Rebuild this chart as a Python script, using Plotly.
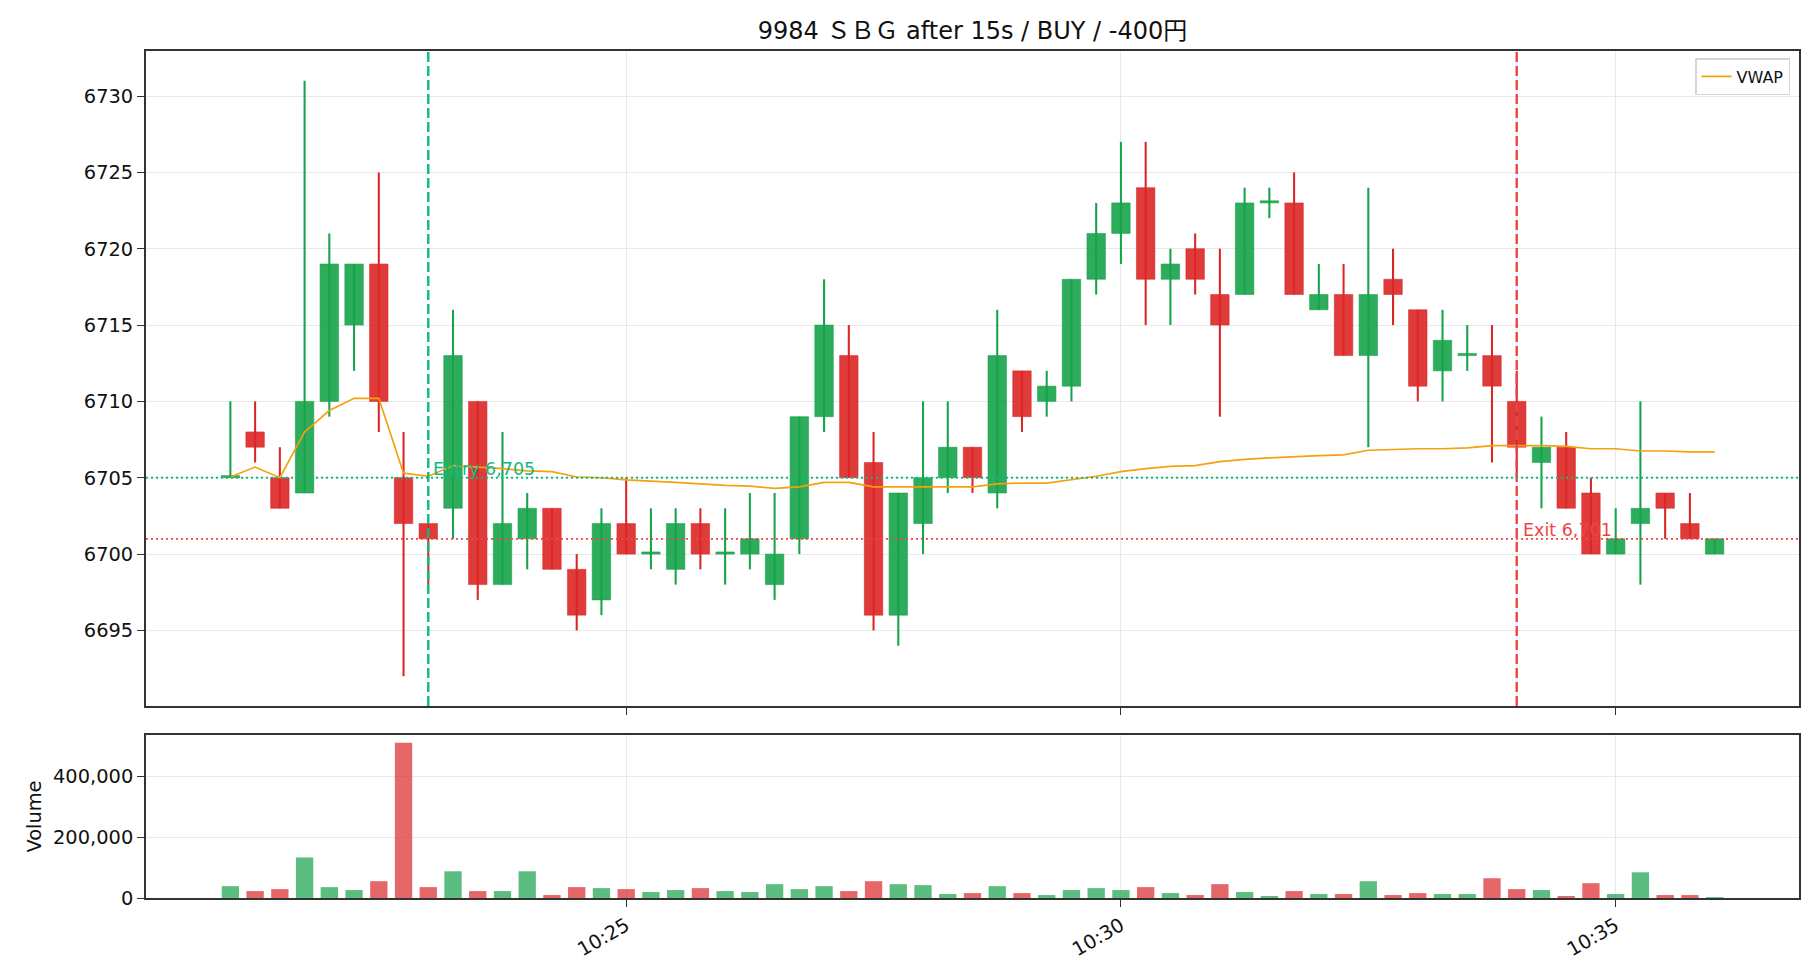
import plotly.graph_objects as go
import pandas as pd

DATE = "2025-01-01"
TITLE = "9984 ＳＢＧ after 15s / BUY / -400円"

times = ["10:21:00", "10:21:15", "10:21:30", "10:21:45", "10:22:00", "10:22:15", "10:22:30", "10:22:45",
         "10:23:00", "10:23:15", "10:23:30", "10:23:45", "10:24:00", "10:24:15", "10:24:30", "10:24:45",
         "10:25:00", "10:25:15", "10:25:30", "10:25:45", "10:26:00", "10:26:15", "10:26:30", "10:26:45",
         "10:27:00", "10:27:15", "10:27:30", "10:27:45", "10:28:00", "10:28:15", "10:28:30", "10:28:45",
         "10:29:00", "10:29:15", "10:29:30", "10:29:45", "10:30:00", "10:30:15", "10:30:30", "10:30:45",
         "10:31:00", "10:31:15", "10:31:30", "10:31:45", "10:32:00", "10:32:15", "10:32:30", "10:32:45",
         "10:33:00", "10:33:15", "10:33:30", "10:33:45", "10:34:00", "10:34:15", "10:34:30", "10:34:45",
         "10:35:00", "10:35:15", "10:35:30", "10:35:45", "10:36:00"]

opens = [6705, 6708, 6705, 6704, 6710, 6715, 6719, 6705, 6702, 6703,
         6710, 6698, 6701, 6703, 6699, 6697, 6702, 6700, 6699, 6702,
         6700, 6700, 6698, 6701, 6709, 6713, 6706, 6696, 6702, 6705,
         6707, 6704, 6712, 6710, 6711, 6718, 6721, 6724, 6718, 6720,
         6717, 6717, 6723, 6723, 6716, 6717, 6713, 6718, 6716, 6712,
         6713, 6713, 6710, 6706, 6707, 6704, 6700, 6702, 6704, 6702, 6700]
highs = [6710, 6710, 6707, 6731, 6721, 6719, 6725, 6708, 6702, 6716,
         6710, 6708, 6704, 6703, 6700, 6703, 6705, 6703, 6703, 6703,
         6703, 6704, 6704, 6709, 6718, 6715, 6708, 6704, 6710, 6710,
         6707, 6716, 6712, 6712, 6718, 6723, 6727, 6727, 6720, 6721,
         6720, 6724, 6724, 6725, 6719, 6719, 6724, 6720, 6716, 6716,
         6715, 6715, 6712, 6709, 6708, 6705, 6703, 6710, 6704, 6704, 6701]
lows = [6705, 6706, 6703, 6704, 6709, 6712, 6708, 6692, 6698, 6701,
        6697, 6698, 6699, 6699, 6695, 6696, 6700, 6699, 6698, 6699,
        6698, 6699, 6697, 6700, 6708, 6705, 6695, 6694, 6700, 6704,
        6704, 6703, 6708, 6709, 6710, 6717, 6719, 6715, 6715, 6717,
        6709, 6717, 6722, 6717, 6716, 6713, 6707, 6715, 6710, 6710,
        6712, 6706, 6705, 6703, 6703, 6700, 6700, 6698, 6701, 6701, 6700]
closes = [6705, 6707, 6703, 6710, 6719, 6719, 6710, 6702, 6701, 6713,
          6698, 6702, 6703, 6699, 6696, 6702, 6700, 6700, 6702, 6700,
          6700, 6701, 6700, 6709, 6715, 6705, 6696, 6704, 6705, 6707,
          6705, 6713, 6709, 6711, 6718, 6721, 6723, 6718, 6719, 6718,
          6715, 6723, 6723, 6717, 6717, 6713, 6717, 6717, 6711, 6714,
          6713, 6711, 6707, 6707, 6703, 6700, 6701, 6703, 6703, 6701, 6701]
volumes = [38900, 22700, 29200, 133000, 35700, 26000, 55100, 509000, 35700, 87600,
           22700, 22700, 87600, 9700, 35700, 32400, 29200, 19500, 26000, 32400,
           22700, 19500, 45400, 29200, 38900, 22700, 55100, 45400, 42200, 13000,
           16200, 38900, 16200, 9700, 26000, 32400, 26000, 35700, 16200, 9700,
           45400, 19500, 6500, 22700, 13000, 13000, 55100, 9700, 16200, 13000,
           13000, 64900, 29200, 26000, 6500, 48600, 13000, 84300, 9700, 9700, 3000]
vwap = [6705.05, 6705.7, 6705.0, 6708.0, 6709.4, 6710.2, 6710.2, 6705.3, 6705.1, 6705.8,
        6705.7, 6705.6, 6705.45, 6705.4, 6705.05, 6705.0, 6704.86, 6704.8, 6704.7, 6704.6,
        6704.5, 6704.45, 6704.3, 6704.4, 6704.7, 6704.7, 6704.4, 6704.4, 6704.4, 6704.4,
        6704.4, 6704.6, 6704.65, 6704.65, 6704.85, 6705.1, 6705.4, 6705.6, 6705.75, 6705.8,
        6706.05, 6706.2, 6706.3, 6706.4, 6706.45, 6706.5, 6706.8, 6706.85, 6706.9, 6706.9,
        6706.95, 6707.1, 6707.1, 6707.1, 6707.05, 6706.9, 6706.9, 6706.75, 6706.75, 6706.7, 6706.7]

ENTRY_TIME, ENTRY_PRICE, ENTRY_LABEL = "10:23:00", 6705, "Entry 6,705"
EXIT_TIME, EXIT_PRICE, EXIT_LABEL = "10:34:00", 6701, "Exit 6,701"
price_ticks = [6695, 6700, 6705, 6710, 6715, 6720, 6725, 6730]
volume_ticks = [0, 200000, 400000]
time_tick_labels = ["10:25", "10:30", "10:35"]

# ---- styling ----
FONT = "DejaVu Sans, Noto Sans CJK JP, sans-serif"
UP, DOWN = "#16a34a", "#dc2626"
ENTRY_C, EXIT_C = "#10b981", "#ef4444"
GRID = "#e9e9e9"
SPINE = "#333333"
W, H = 1820, 980
BODY_W = 11200      # ms
VOL_W = 10500       # ms
WICK_W = 1250       # ms


def rgba(hex_c, a):
    h = hex_c.lstrip("#")
    return "rgba(%d,%d,%d,%.2f)" % (int(h[0:2], 16), int(h[2:4], 16), int(h[4:6], 16), a)


x = pd.to_datetime([f"{DATE} {t}" for t in times])
up = [c >= o for o, c in zip(opens, closes)]
col = [UP if u else DOWN for u in up]

body_base = [min(o, c) for o, c in zip(opens, closes)]
body_h = [max(abs(c - o), 0.14) for o, c in zip(opens, closes)]
wick_h = [hh - ll for hh, ll in zip(highs, lows)]

fig = go.Figure()
# wicks
fig.add_trace(go.Bar(x=x, y=wick_h, base=lows, width=WICK_W, marker=dict(color=col, line=dict(width=0)),
                     showlegend=False, xaxis="x", yaxis="y", hoverinfo="skip"))
# bodies
fig.add_trace(go.Bar(x=x, y=body_h, base=body_base, width=BODY_W,
                     marker=dict(color=[rgba(c, 0.9) for c in col],
                                 line=dict(width=1, color=[rgba(c, 0.55) for c in col])),
                     showlegend=False, xaxis="x", yaxis="y", hoverinfo="skip"))
# VWAP
fig.add_trace(go.Scatter(x=x, y=vwap, mode="lines", name="VWAP",
                         line=dict(color="#f5a00f", width=1.7), xaxis="x", yaxis="y"))
# volume
fig.add_trace(go.Bar(x=x, y=volumes, width=VOL_W,
                     marker=dict(color=[rgba(c, 0.7) for c in col], line=dict(width=0)),
                     showlegend=False, xaxis="x2", yaxis="y2", hoverinfo="skip"))

# axis ranges (matplotlib-like 5% margins)
span_ms = (x[-1] - x[0]).total_seconds() * 1000 + BODY_W
pad = pd.Timedelta(milliseconds=0.05 * span_ms + BODY_W / 2)
xr = [str(x[0] - pad), str(x[-1] + pad)]
ylo, yhi = min(lows), max(highs)
ypad = 0.05 * (yhi - ylo)
yr = [ylo - ypad, yhi + ypad]
vr = [0, max(volumes) * 1.05]

tickvals = [f"{DATE} {t}:00" for t in time_tick_labels]

x_dom = [146 / W, 1799 / W]
main_dom = [1 - 706 / H, 1 - 51 / H]
vol_dom = [1 - 898 / H, 1 - 735 / H]

axis_common = dict(showline=True, linecolor=SPINE, linewidth=1.8, mirror=True,
                   showgrid=True, gridcolor=GRID, gridwidth=1.4, automargin=False,
                   ticks="outside", ticklen=7, tickwidth=1.4, tickcolor=SPINE,
                   zeroline=False, tickfont=dict(family=FONT, size=19.4, color="#111"))

fig.update_layout(
    width=W, height=H, margin=dict(l=0, r=0, t=0, b=0, autoexpand=False),
    paper_bgcolor="white", plot_bgcolor="white",
    barmode="overlay",
    font=dict(family=FONT, size=19.4, color="#111"),
    title=dict(text=TITLE, x=972.5 / W, xanchor="center", y=1 - 31 / H, yanchor="middle",
               font=dict(family=FONT, size=24, color="#111")),
    xaxis=dict(axis_common, domain=x_dom, anchor="y", type="date", range=xr,
               tickvals=tickvals, ticktext=time_tick_labels, showticklabels=False, matches="x2"),
    yaxis=dict(axis_common, domain=main_dom, anchor="x", range=yr, tickvals=price_ticks,
               tickformat="d"),
    xaxis2=dict(axis_common, domain=x_dom, anchor="y2", type="date", range=xr,
                tickvals=tickvals, ticktext=time_tick_labels, tickangle=-30),
    yaxis2=dict(axis_common, domain=vol_dom, anchor="x2", range=vr, tickvals=volume_ticks,
                tickformat=",d",
                title=dict(text="Volume", font=dict(family=FONT, size=19.4, color="#111"), standoff=6)),
    legend=dict(x=1790 / W, xanchor="right", y=1 - 58 / H, yanchor="top",
                bgcolor="rgba(255,255,255,0.8)", bordercolor="#d5d5d5", borderwidth=1.5,
                font=dict(family=FONT, size=16, color="#111")),
    showlegend=True,
)

ent_x = f"{DATE} {ENTRY_TIME}"
ex_x = f"{DATE} {EXIT_TIME}"
shapes = [
    dict(type="line", xref="x", yref="y domain", x0=ent_x, x1=ent_x, y0=0, y1=1,
         line=dict(color=ENTRY_C, width=2.4, dash="10px,4px"), layer="above"),
    dict(type="line", xref="x", yref="y domain", x0=ex_x, x1=ex_x, y0=0, y1=1,
         line=dict(color=EXIT_C, width=2.4, dash="10px,4px"), layer="above"),
    dict(type="line", xref="x domain", yref="y", x0=0, x1=1, y0=ENTRY_PRICE, y1=ENTRY_PRICE,
         line=dict(color=ENTRY_C, width=1.8, dash="2px,3px"), layer="above"),
    dict(type="line", xref="x domain", yref="y", x0=0, x1=1, y0=EXIT_PRICE, y1=EXIT_PRICE,
         line=dict(color=EXIT_C, width=1.8, dash="2px,3px"), layer="above"),
]
fig.update_layout(shapes=shapes)
fig.add_annotation(x=ent_x, y=ENTRY_PRICE, xref="x", yref="y", text=ENTRY_LABEL, showarrow=False,
                   xanchor="left", yanchor="bottom", xshift=3, yshift=-3,
                   font=dict(family=FONT, size=17.5, color=ENTRY_C))
fig.add_annotation(x=ex_x, y=EXIT_PRICE, xref="x", yref="y", text=EXIT_LABEL, showarrow=False,
                   xanchor="left", yanchor="bottom", xshift=4, yshift=-3,
                   font=dict(family=FONT, size=17.5, color=EXIT_C))

fig.write_html("out.html")
